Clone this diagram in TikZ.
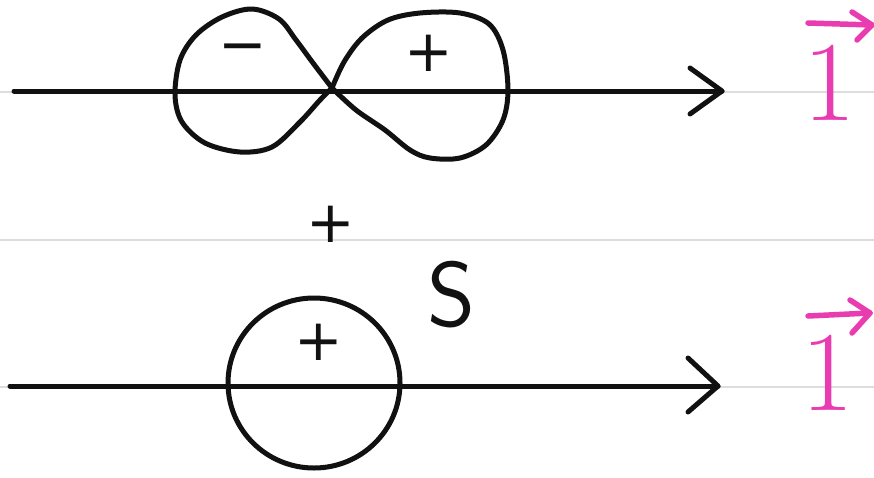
\documentclass[tikz,border=0pt]{standalone}
\usepackage{fontspec}
\newfontfamily\djv{DejaVu Sans}
\definecolor{ink}{HTML}{111111}
\definecolor{pinkink}{HTML}{E83CB0}
\definecolor{rule}{HTML}{DDDDDD}
\tikzset{
  stroke/.style={draw=ink, line width=5pt, line cap=round, line join=round},
  pstroke/.style={draw=pinkink, line width=5.5pt, line cap=round, line join=round},
  ruleline/.style={draw=rule, line width=2pt},
  sign/.style={text=ink, inner sep=0pt, font=\djv\fontsize{58}{58}\selectfont},
  onelabel/.style={text=pinkink, inner sep=0pt, anchor=base, font=\fontsize{114}{114}\selectfont},
  slabel/.style={text=ink, inner sep=0pt, anchor=base, font=\sffamily\fontsize{92}{92}\selectfont}
}
\begin{document}
\begin{tikzpicture}[x=1pt,y=-1pt]
\useasboundingbox (0,0) rectangle (874,477);
\fill[white] (0,0) rectangle (874,477);
% ruled lines
\draw[ruleline] (0,92) -- (874,92);
\draw[ruleline] (0,240) -- (874,240);
\draw[ruleline] (0,387) -- (874,387);
% axes
\coordinate (a1s) at (14,91); \coordinate (a1e) at (722,91);
\draw[stroke] (a1s) -- (a1e);
\draw[stroke] (690,68) -- (a1e) -- (690,114);
\coordinate (a2s) at (10,386); \coordinate (a2e) at (718,386);
\draw[stroke] (a2s) -- (a2e);
\draw[stroke] (688,358) -- (a2e) -- (688,412);
% figure eight
\draw[stroke] plot[smooth, tension=0.55] coordinates {(332,88) (313,63) (296,40) (279,19) (252,9) (222,17) (196,35) (180,60) (175,95) (182,122) (205,143) (240,152) (272,147) (300,122) (320,100) (332,88)};
\draw[stroke] plot[smooth, tension=0.55] coordinates {(332,88) (344,62) (362,38) (388,20) (420,13) (460,13) (489,24) (503,50) (508,90) (503,120) (486,145) (460,158) (430,158) (410,150) (385,130) (356,110) (332,88)};
% bottom circle
\draw[stroke] (314,383) ellipse[x radius=86, y radius=85];
% signs
\node[sign] (minus) at (243,54) {−};
\node[sign] (plusR) at (429,53) {+};
\node[sign] (plusM) at (331,224) {+};
\node[sign] (plusC) at (319,342) {+};
\node[slabel] (S) at (452,326) {S};
% pink vector ones
\node[onelabel] (one1) at (830,120) {1};
\draw[pstroke] (808,23) -- (872,25);
\draw[pstroke] (852,12) -- (872,25) -- (857,40);
\node[onelabel] (one2) at (828,410) {1};
\draw[pstroke] (808,316) -- (870,313);
\draw[pstroke] (850,300) -- (870,313) -- (852,333);
\end{tikzpicture}
\end{document}
